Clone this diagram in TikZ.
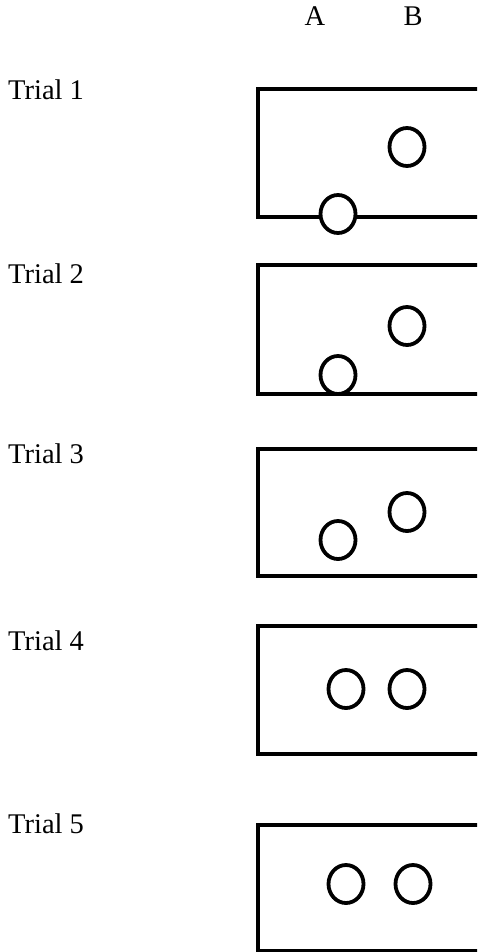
\documentclass[tikz,border=0pt]{standalone}
\usepackage{fontspec}
\setmainfont{Liberation Serif}
\usetikzlibrary{shapes.geometric}
\begin{document}
\begin{tikzpicture}[x=1pt,y=-1pt,
  lbl/.style={font=\fontsize{28.5}{31}\selectfont, inner sep=0pt, anchor=base west},
  col/.style={font=\fontsize{28.5}{31}\selectfont, inner sep=0pt, anchor=base},
  tray/.style={line width=4pt, line join=miter},
  ball/.style={ellipse, draw, line width=3.8pt, fill=white, minimum width=35pt, minimum height=38pt, inner sep=0pt}]
\useasboundingbox (0,0) rectangle (477,952);
\clip (0,0) rectangle (477,952);
% column headers
\node[col] (hA) at (315,26) {A};
\node[col] (hB) at (413,26) {B};
% trial labels
\node[lbl] (t1) at (8,100) {Trial 1};
\node[lbl] (t2) at (8,283) {Trial 2};
\node[lbl] (t3) at (8,463) {Trial 3};
\node[lbl] (t4) at (8,650) {Trial 4};
\node[lbl] (t5) at (8,833) {Trial 5};
% trays
\draw[tray] (258,89) rectangle (495,216.5);
\draw[tray] (258,265) rectangle (495,394);
\draw[tray] (258,449) rectangle (495,576);
\draw[tray] (258,626) rectangle (495,754);
\draw[tray] (258,825) rectangle (495,951);
% balls
\node[ball] (a1) at (338,214) {};
\node[ball] (b1) at (407,147) {};
\node[ball] (a2) at (338,375) {};
\node[ball] (b2) at (407,326) {};
\node[ball] (a3) at (338,540) {};
\node[ball] (b3) at (407,512) {};
\node[ball] (a4) at (346,689) {};
\node[ball] (b4) at (407,689) {};
\node[ball] (a5) at (346,884) {};
\node[ball] (b5) at (413,884) {};
\end{tikzpicture}
\end{document}
